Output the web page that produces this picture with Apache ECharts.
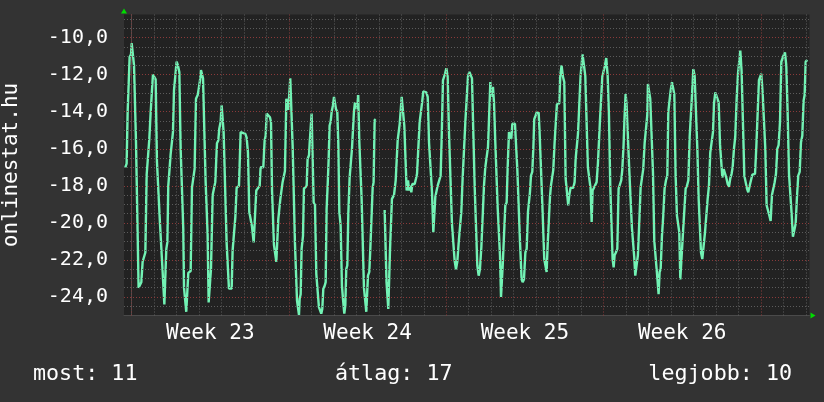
<!DOCTYPE html>
<html>
<head>
<meta charset="utf-8">
<script src="https://cdn.jsdelivr.net/npm/echarts@6/dist/echarts.min.js"></script>
<style>
  html, body { margin: 0; background: #333333; }
  #chart { width: 824px; height: 402px; }
</style>
</head>
<body>
<div id="chart"></div>
<script>
// hours since Monday 00:00 of week 23
const hours = [
  -6.8,-5.4,-4.3,-2.9,-2.2,-0.7,0,1.4,2.5,3.5,4.6,5.7,7.4,9.2,10.3,11.7,13.5,14.6,16.0,17.4,
  18.8,20.3,21.7,22.7,24.2,25.6,27.0,28.8,30.2,31.6,32.7,33.8,34.9,35.9,37.0,38.1,39.1,40.2,41.6,43.0,
  44.1,45.2,46.6,48.0,49.4,50.9,52.3,53.7,55.1,55.9,57.3,58.3,59.4,60.5,63.0,64.4,65.8,67.2,68.7,70.5,
  71.5,73.0,74.0,75.1,76.2,77.6,79.0,80.1,81.1,82.2,83.6,84.7,86.5,87.9,89.3,91.1,92.5,93.6,95.0,96.1,
  97.2,98.2,100.0,101.4,102.9,103.9,106.8,107.8,109.3,110.7,112.1,114.6,116.4,117.8,121.4,122.8,124.2,125.6,127.1,128.5,
  130.3,132.0,133.1,134.5,
  136.7,137.7,140.6,142.0,143.1,144.2,146.3,147.7,148.8,149.9,150.9,152.0,153.4,154.5,155.5,156.6,157.7,158.8,160.2,161.2,
  162.7,163.7,165.2,166.2,167.3,168.4,169.4,171.2,171.9,173.4,174.4,175.5,176.6,177.6,178.7,179.4,180.5,181.5,183.0,184.0,
  185.5,186.9,187.9,189.4,190.1,191.1,192.2,193.3,194.4,195.8,197.2,198.6,200.0,201.5,202.5,203.6,204.7,206.1,207.2,208.2,
  209.3,210.4,211.4,212.5,213.6,215.0,216.1,217.1,218.2,219.6,220.7,221.8,223.2,224.6,225.7,227.1,228.2,229.2,230.3,231.4,
  232.8,234.2,235.3,236.4,237.4,238.5,239.9,240.6,242.0,243.1,244.5,245.6,247.0,248.1,249.5,250.6,251.7,252.4,253.8,254.9,
  256.3,257.4,258.4,259.5,260.6,265,270.2,271.3,272.2,273.2,274.1,275.1,275.9,277.0,278.0,280.2,
  282.0,283.0,284.1,285.2,286.3,287.3,288.4,290.2,291.2,292.3,293.7,295.2,296.2,297.3,298.7,299.8,302.3,303.7,304.8,306.2,
  307.6,309.0,310.1,311.5,313.3,314.7,316.2,317.6,319.4,320.8,322.2,323.3,324.3,325.4,326.8,328.6,330.0,331.1,332.5,333.8,
  334.7,336.1,337.5,338.9,340.7,342.1,343.6,345.0,346.4,347.8,349.3,350.7,352.1,353.5,355.0,356.4,357.8,359.2,360.7,362.1,
  363.5,364.9,366.4,367.8,369.2,370.6,372.0,373.5,374.9,376.3,377.7,379.2,380.6,382.0,383.1,384.2,384.9,385.9,387.0,388.4,
  389.8,390.9,392.3,393.4,394.5,395.5,396.3,397.7,399.1,400.5,401.6,403.0,404.4,405.5,406.6,408.0,409.4,410.9,411.9,413.3,
  414.8,416.5,417.6,419.0,420.5,421.9,423.3,
  425.4,426.5,427.9,429.0,430.0,431.5,432.5,434.7,435.7,437.2,438.6,439.6,440.7,442.1,443.2,444.3,445.3,446.8,447.8,449.3,
  450.3,451.7,453.2,454.2,456.7,457.8,459.2,460.6,462.1,463.5,464.9,466.3,467.4,468.8,471.7,473.1,474.2,475.6,476.7,478.1,
  479.5,480.6,481.6,483.1,484.5,485.9,487.3,488.8,490.2,491.3,492.3,493.8,495.2,496.6,498.0,499.1,500.2,501.6,502.7,504.1,
  505.5,506.9,508.4,509.8,511.2,512.6,513.7,514.8,515.8,517.2,518.7,520.1,521.5,522.9,524.0,525.4,526.5,527.6,528.6,530.1,
  531.5,532.9,534.3,535.8,536.8,537.9,539.3,540.7,542.2,543.6,545.0,546.4,547.9,549.3,550.7,551.4,552.8,553.9,555.3,556.8,
  558.2,559.6,560.7,561.7,562.8,563.9,565.0,566.4,567.8,569.2,
  570.7,572.1,573.2,574.6,575.7,577.1,578.5,579.6,581.0,582.4,583.5,584.9,586.0,587.4,588.9,590.3,591.7,593.1,594.6,596.0,
  597.4,598.5,599.9,601.3,602.7,604.2,605.6,607.0,608.1,609.5,610.9,612.4,613.8,615.2,616.6,618.0,619.5,620.9,622.0,623.4,
  625.5,627.0,628.4,629.8,630.9,632.3,633.7,635.1,636.6,638.0,639.4,640.8,641.9,643.3,644.7,646.2,647.6,649.0,650.1,651.5,
  652.9,654.4,655.8,657.2,658.6,660.1,661.5,662.9,665.8,667.2,668.6,670.0,671.4,672.5,673.9,675.4,676.8,678.2,679.6,681.1,
  682.5,683.9,685.3,686.8,688.2,689.6,691.0,692.5,693.9,695.3,696.4,697.8,699.2,700.6,702.1,703.5,704.9,706.3,707.8,709.2,
  710.6,712.0,713.5,714.9,716.3,717.7,718.8,719.9,721.6
];
const temps = [
  -17.0,-16.8,-14.0,-14.0,-11.05,-10.9,-10.3,-10.3,-11.5,-11.5,-15.6,-15.7,-23.5,-23.5,-23.2,-22.1,-22.0,-21.6,-17.4,-17.4,
  -15.5,-14.0,-14.0,-12.0,-12.1,-12.25,-16.7,-16.8,-20.0,-20.05,-22.3,-22.4,-24.4,-24.4,-21.4,-21.05,-18.0,-17.9,-16.3,-16.2,
  -15.1,-12.85,-12.75,-11.3,-11.5,-11.85,-16.0,-16.0,-20.3,-23.5,-23.5,-24.8,-24.8,-22.7,-22.6,-18.1,-18.1,-17.1,-13.3,-13.1,
  -12.8,-12.3,-11.75,-11.85,-12.2,-12.3,-17.8,-17.85,-20.6,-24.3,-24.3,-22.5,-18.5,-18.4,-17.8,-15.7,-15.55,-14.9,-14.55,-13.65,
  -13.65,-15.1,-15.2,-21.05,-21.1,-23.55,-23.55,-21.5,-21.4,-19.7,-18.1,-18.0,-15.1,-15.05,-15.2,-15.4,-16.2,-19.4,-19.5,-20.2,
  -21.05,-21.0,-18.25,-18.15,
  -18.0,-17.0,-17.0,-15.55,-15.3,-14.1,-14.1,-14.3,-14.55,-18.25,-18.35,-21.2,-21.2,-22.1,-22.1,-19.8,-19.7,-18.7,-18.6,-17.8,
  -17.7,-17.2,-13.3,-13.2,-13.9,-13.9,-12.2,-12.2,-15.8,-15.9,-21.1,-21.2,-24.2,-24.2,-24.97,-24.1,-23.85,-21.4,-20.7,-18.15,
  -18.1,-18.0,-16.55,-16.35,-15.7,-15.7,-14.1,-14.2,-18.9,-19.05,-22.75,-22.85,-24.55,-24.65,-24.9,-24.65,-23.55,-23.4,-23.2,-19.25,
  -18.0,-16.55,-14.75,-14.55,-14.0,-13.65,-13.2,-13.2,-13.85,-14.0,-15.7,-19.4,-20.15,-23.4,-24.1,-24.9,-24.45,-22.5,-22.3,-19.5,
  -17.55,-17.45,-16.0,-15.9,-14.0,-13.5,-13.5,-13.85,-13.1,-15.55,-15.65,-18.7,-18.8,-23.5,-23.55,-24.8,-24.8,-22.85,-22.65,-21.4,
  -21.3,-18.1,-17.8,-14.45,-14.4,null,-19.3,-19.4,-23.2,-23.3,-24.65,-24.65,-21.5,-21.5,-18.7,-18.5,
  -17.7,-17.6,-15.55,-15.45,-14.65,-14.55,-13.2,-13.25,-14.75,-14.8,-18.25,-17.7,-18.25,-18.0,-18.35,-17.9,-17.9,-17.6,-17.35,-17.25,
  -14.55,-14.45,-13.55,-12.9,-12.85,-12.95,-13.2,-15.65,-15.7,-18.35,-20.5,-20.5,-18.6,-18.5,-18.0,-18.0,-17.45,-15.45,-12.3,-12.2,
  -11.95,-11.65,-12.1,-15.1,-15.2,-20.05,-20.15,-22.05,-22.5,-22.1,-21.05,-20.95,-19.4,-17.6,-17.55,-14.55,-14.45,-12.1,-11.85,-11.95,
  -12.2,-15.1,-18.1,-18.15,-22.3,-22.85,-22.5,-21.3,-21.2,-18.0,-17.0,-16.9,-15.9,-15.8,-12.4,-12.5,-13.2,-12.65,-13.5,-15.65,
  -15.7,-19.15,-19.25,-21.75,-24.0,-24.0,-22.3,-22.2,-19.05,-18.9,-17.0,-15.1,-15.2,-15.45,-14.65,-14.6,-14.65,-14.75,-17.1,-17.15,
  -21.05,-23.05,-23.2,-23.05,-21.6,-21.4,-19.4,
  -18.35,-17.45,-17.25,-16.0,-14.4,-14.2,-14.05,-14.05,-15.1,-15.2,-18.95,-19.05,-21.95,-22.05,-22.65,-21.2,-21.2,-18.6,-18.0,-17.9,
  -17.15,-15.7,-15.65,-13.6,-13.55,-12.05,-11.5,-12.1,-12.4,-17.6,-17.7,-19.05,-18.5,-18.1,-18.1,-17.8,-16.55,-16.45,-15.2,-15.2,
  -12.05,-11.95,-10.9,-10.9,-12.05,-12.1,-17.0,-17.1,-18.15,-19.95,-18.25,-18.1,-18.0,-17.8,-16.8,-16.7,-14.45,-14.4,-12.1,-12.0,
  -11.5,-11.1,-12.05,-14.2,-18.0,-18.1,-21.95,-22.4,-21.75,-21.6,-21.4,-18.15,-18.1,-17.7,-17.15,-15.8,-14.2,-13.05,-13.6,-13.65,
  -17.15,-17.25,-20.25,-20.3,-21.85,-22.85,-22.85,-21.75,-19.95,-18.1,-18.0,-17.1,-15.7,-15.65,-14.2,-12.5,-12.5,-13.3,-13.4,-17.25,
  -20.95,-21.05,-22.5,-23.1,-23.85,-22.65,-22.5,-20.7,-19.6,-18.15,
  -17.7,-17.45,-14.0,-13.95,-12.85,-12.4,-12.4,-13.05,-17.45,-19.6,-19.6,-20.5,-23.05,-23.05,-20.5,-20.4,-18.15,-18.0,-17.7,-15.35,
  -15.3,-13.1,-11.7,-12.05,-12.1,-16.0,-18.7,-18.8,-21.6,-21.95,-21.95,-20.5,-20.4,-18.7,-18.0,-16.2,-16.1,-15.1,-13.55,-12.95,
  -12.9,-13.5,-15.75,-15.8,-17.55,-17.1,-17.1,-17.55,-17.9,-18.05,-17.6,-17.35,-17.0,-16.0,-15.35,-13.3,-11.95,-11.85,-10.7,-11.85,
  -11.95,-17.45,-17.8,-18.15,-18.35,-18.0,-17.7,-17.4,-17.35,-15.9,-15.8,-12.3,-12.1,-11.95,-12.95,-13.05,-16.0,-19.05,-19.15,-19.6,
  -19.9,-18.5,-18.45,-17.8,-17.35,-16.0,-15.8,-14.55,-11.3,-11.2,-10.95,-10.8,-11.5,-13.95,-17.35,-17.45,-19.5,-20.75,-20.7,-20.05,
  -18.6,-17.45,-17.25,-15.65,-15.3,-13.4,-13.1,-11.3,-11.2
];

const weekNames = ['Week 23', 'Week 24', 'Week 25', 'Week 26'];
const weekMid = [84, 252, 420, 588];
const weekStarts = [0, 168, 336, 504, 672];
const yTicks = [-24, -22, -20, -18, -16, -14, -12, -10];
const xRange = [-8.2, 724];
const yRange = [-25, -8.75];
const most = 11, atlag = 17, legjobb = 10;

const FONT = "'DejaVu Sans Mono', monospace";
const minorColor = '#5c5c5c';
const majorColor = '#8a3a3a';

// grid lines
const gridLines = [];
for (let h = 0; h <= xRange[1]; h += 24) {
  if (weekStarts.indexOf(h) < 0) gridLines.push({ xAxis: h, lineStyle: { color: minorColor } });
}
for (let v = -24.5; v <= -9; v += 0.5) {
  if (yTicks.indexOf(v) < 0) gridLines.push({ yAxis: v, lineStyle: { color: minorColor } });
}
weekStarts.forEach(h => gridLines.push({ xAxis: h, lineStyle: { color: majorColor } }));
yTicks.forEach(v => gridLines.push({ yAxis: v, lineStyle: { color: majorColor } }));

const chart = echarts.init(document.getElementById('chart'));

chart.setOption({
  backgroundColor: '#333333',
  animation: false,
  grid: {
    left: 124, right: 14.5, top: 14.5, bottom: 86.5,
    show: true, backgroundColor: '#222222', borderWidth: 0
  },
  xAxis: {
    type: 'value', min: xRange[0], max: xRange[1],
    splitLine: { show: false },
    axisTick: { show: false },
    axisLine: { show: true, lineStyle: { color: '#4a4a4a', width: 1 } },
    axisLabel: {
      customValues: weekMid,
      formatter: v => weekNames[weekMid.indexOf(v)] || '',
      color: '#ffffff', fontFamily: FONT, fontSize: 21, margin: 8
    }
  },
  yAxis: {
    type: 'value', min: yRange[0], max: yRange[1],
    splitLine: { show: false },
    axisTick: { show: false },
    axisLine: { show: true, lineStyle: { color: '#4a4a4a', width: 1 } },
    axisLabel: {
      customValues: yTicks,
      formatter: v => v.toFixed(1).replace('.', ','),
      color: '#ffffff', fontFamily: FONT, fontSize: 20, margin: 16
    }
  },
  series: [
    {
      type: 'line', data: [], z: 1, silent: true,
      markLine: {
        silent: true, symbol: ['none', 'none'], label: { show: false },
        animation: false,
        lineStyle: { width: 1, type: [1, 2] },
        emphasis: { disabled: true },
        data: gridLines
      }
    },
    {
      type: 'line', z: 3,
      data: hours.map((h, i) => [h, temps[i]]),
      showSymbol: false, connectNulls: false,
      lineStyle: { color: '#72f2b4', width: 2.4 },
      itemStyle: { color: '#72f2b4' }
    }
  ]
});

// arrows at axis ends and the texts round the plot
const p0 = chart.convertToPixel({ gridIndex: 0 }, [xRange[0], yRange[0]]);
const p1 = chart.convertToPixel({ gridIndex: 0 }, [xRange[1], yRange[1]]);
const arrowColor = '#00dd00';
const textStyle = (t, x, y, align) => ({
  type: 'text', x: x, y: y,
  style: { text: t, fill: '#ffffff', font: "21.7px " + FONT, textAlign: align, textVerticalAlign: 'middle' }
});
chart.setOption({
  graphic: [
    { type: 'polygon', shape: { points: [[p0[0] - 3, p1[1] - 1], [p0[0] + 3, p1[1] - 1], [p0[0], p1[1] - 6]] }, style: { fill: arrowColor } },
    { type: 'polygon', shape: { points: [[p1[0] + 1, p0[1] - 3], [p1[0] + 1, p0[1] + 3], [p1[0] + 6, p0[1]]] }, style: { fill: arrowColor } },
    {
      type: 'text', x: 12, y: (p0[1] + p1[1]) / 2, rotation: Math.PI / 2,
      style: { text: 'onlinestat.hu', fill: '#ffffff', font: "21px " + FONT, textAlign: 'center', textVerticalAlign: 'middle' }
    },
    textStyle('most: ' + most, 33, 374, 'left'),
    textStyle('átlag: ' + atlag, 335, 374, 'left'),
    textStyle('legjobb: ' + legjobb, 792, 374, 'right')
  ]
});
</script>
</body>
</html>
